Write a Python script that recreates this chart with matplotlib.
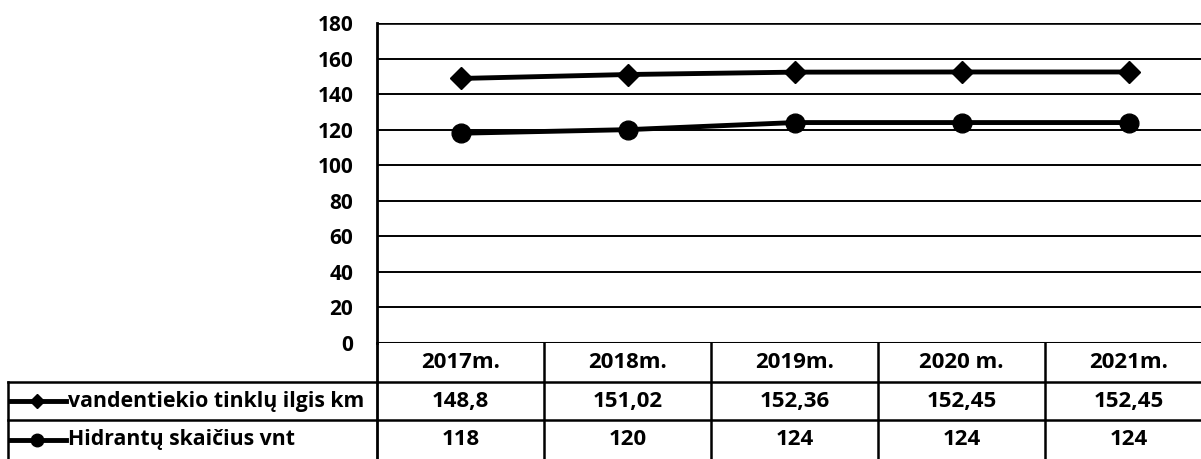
import matplotlib.pyplot as plt
from matplotlib.lines import Line2D
from matplotlib.transforms import blended_transform_factory

years = ['2017m.', '2018m.', '2019m.', '2020 m.', '2021m.']
vandentiekis = [148.8, 151.02, 152.36, 152.45, 152.45]
vandentiekis_txt = ['148,8', '151,02', '152,36', '152,45', '152,45']
hidrantai = [118, 120, 124, 124, 124]
series_names = ['vandentiekio tinklų ilgis km', 'Hidrantų skaičius vnt']
yticks = list(range(0, 181, 20))

plt.rcParams['font.family'] = ['Open Sans', 'DejaVu Sans']
plt.rcParams['font.weight'] = 'bold'

W, H = 1201, 459
fig = plt.figure(figsize=(W / 100, H / 100), dpi=100)

x0, x1 = 377, 1201
y_top, y_zero = 23, 343
ax = fig.add_axes([x0 / W, (H - y_zero) / H, (x1 - x0) / W, (y_zero - y_top) / H])

xs = list(range(len(years)))
col_w = 167
ax.set_xlim(-0.5, -0.5 + (x1 - x0) / col_w)
ax.set_ylim(0, 180)

for v in yticks[1:-1]:
    ax.axhline(v, color='black', lw=1.4, zorder=1)
ax.axhline(180, color='black', lw=2.6, zorder=1)
ax.axhline(0, color='black', lw=2.2, zorder=1)

ax.plot(xs, vandentiekis, color='black', lw=3.5, marker='D', ms=11, zorder=3)
ax.plot(xs, hidrantai, color='black', lw=3.5, marker='o', ms=13.5, zorder=3)

for s in ['top', 'right', 'bottom']:
    ax.spines[s].set_visible(False)
ax.spines['left'].set_linewidth(2)
ax.set_yticks(yticks)
ax.set_yticklabels([str(t) for t in yticks], fontsize=15, fontweight='bold')
ax.tick_params(axis='y', length=0, pad=17)
ax.set_xticks([])

# table under the chart
tr = blended_transform_factory(ax.transData, fig.transFigure)

def fy(p):
    return (H - p) / H

def fx(p):
    return p / W

rows_y = [343, 382, 420, 459]
# horizontal lines
fig.add_artist(Line2D([fx(x0), 1], [fy(382), fy(382)], color='black', lw=1.8))
fig.add_artist(Line2D([fx(8), fx(x0)], [fy(382), fy(382)], color='black', lw=1.8))
fig.add_artist(Line2D([fx(8), 1], [fy(420), fy(420)], color='black', lw=1.8))
# vertical lines
fig.add_artist(Line2D([fx(x0), fx(x0)], [fy(343), 0], color='black', lw=2))
fig.add_artist(Line2D([fx(8), fx(8)], [fy(382), 0], color='black', lw=1.8))
for i in range(1, len(years)):
    xv = x0 + i * col_w
    fig.add_artist(Line2D([fx(xv), fx(xv)], [fy(343), 0], color='black', lw=1.8))

fs = 16
row_mid = [(rows_y[k] + rows_y[k + 1]) / 2 for k in range(3)]
for i, lab in enumerate(years):
    ax.text(i, fy(row_mid[0]), lab, transform=tr, ha='center', va='center',
            fontsize=fs, fontweight='bold')
    ax.text(i, fy(row_mid[1]), vandentiekis_txt[i], transform=tr, ha='center', va='center',
            fontsize=fs, fontweight='bold')
    ax.text(i, fy(row_mid[2]), str(hidrantai[i]), transform=tr, ha='center', va='center',
            fontsize=fs, fontweight='bold')

markers = ['D', 'o']
msizes = [7, 9]
for k, name in enumerate(series_names):
    yy = fy(row_mid[k + 1])
    fig.add_artist(Line2D([fx(11), fx(66)], [yy, yy], color='black', lw=3.5))
    fig.add_artist(Line2D([fx(37)], [yy], marker=markers[k], ms=msizes[k], color='black'))
    fig.text(fx(68), yy, name, ha='left', va='center', fontsize=15.3, fontweight='bold')

fig.savefig('out.png', dpi=100)
